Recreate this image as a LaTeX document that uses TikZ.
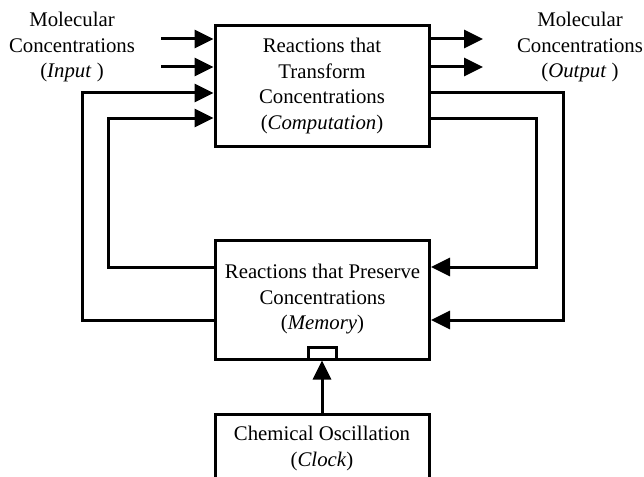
\documentclass[tikz,border=0pt]{standalone}
\usepackage{fontspec}
\setmainfont{Liberation Serif}
\usetikzlibrary{arrows.meta}

\tikzset{
	blockbox/.style={draw, line width=3pt, minimum width=214pt, align=center, inner sep=0pt},
	arr/.style={line width=3pt, -{Triangle[length=19pt,width=18pt]}},
	wire/.style={line width=3pt}
}

\begin{document}
\begin{tikzpicture}[x=1pt, y=-1pt, font=\fontsize{20.8}{25.5}\selectfont]

		\useasboundingbox (0,0) rectangle (644,476);
		\clip (0,0) rectangle (644,476);

		% blocks
		\node[blockbox, minimum height=120pt] (comp) at (322,86)
			{Reactions that\\Transform\\Concentrations\\(\textit{Computation})};
		\node[blockbox, minimum height=119pt] (mem) at (322.5,299.5)
			{Reactions that Preserve\\Concentrations\\(\textit{Memory})};
		\node[blockbox, minimum height=69pt] (clock) at (322,448.5)
			{Chemical Oscillation\\(\textit{Clock})};
		\node[draw, line width=3pt, minimum width=28pt, minimum height=12pt, inner sep=0pt] (port) at (322,353) {};

		% labels
		\node[align=center] (inlabel) at (72,47) {Molecular\\Concentrations\\(\textit{Input} )};
		\node[align=center] (outlabel) at (580,47) {Molecular\\Concentrations\\(\textit{Output} )};

		% input and output
		\coordinate (in1) at (161,39);
		\coordinate (in2) at (161,67);
		\coordinate (out1) at (483,39);
		\coordinate (out2) at (483,67);
		\draw[arr] (in1) -- (in1 -| comp.west);
		\draw[arr] (in2) -- (in2 -| comp.west);
		\draw[arr] (comp.east |- out1) -- (out1);
		\draw[arr] (comp.east |- out2) -- (out2);

		% loops computation -> memory
		\coordinate (r1) at (563,93);
		\coordinate (r2) at (563,320);
		\coordinate (r3) at (536,118);
		\coordinate (r4) at (536,267);
		\draw[arr] (comp.east |- r1) -- (r1) -- (r2) -- (mem.east |- r2);
		\draw[arr] (comp.east |- r3) -- (r3) -- (r4) -- (mem.east |- r4);

		% loops memory -> computation
		\coordinate (l1) at (82,320);
		\coordinate (l2) at (82,93);
		\coordinate (l3) at (108,267);
		\coordinate (l4) at (108,118);
		\draw[arr] (mem.west |- l1) -- (l1) -- (l2) -- (comp.west |- l2);
		\draw[arr] (mem.west |- l3) -- (l3) -- (l4) -- (comp.west |- l4);

		% clock
		\draw[arr] (clock.north) -- (port.south);

	\end{tikzpicture}
\end{document}
